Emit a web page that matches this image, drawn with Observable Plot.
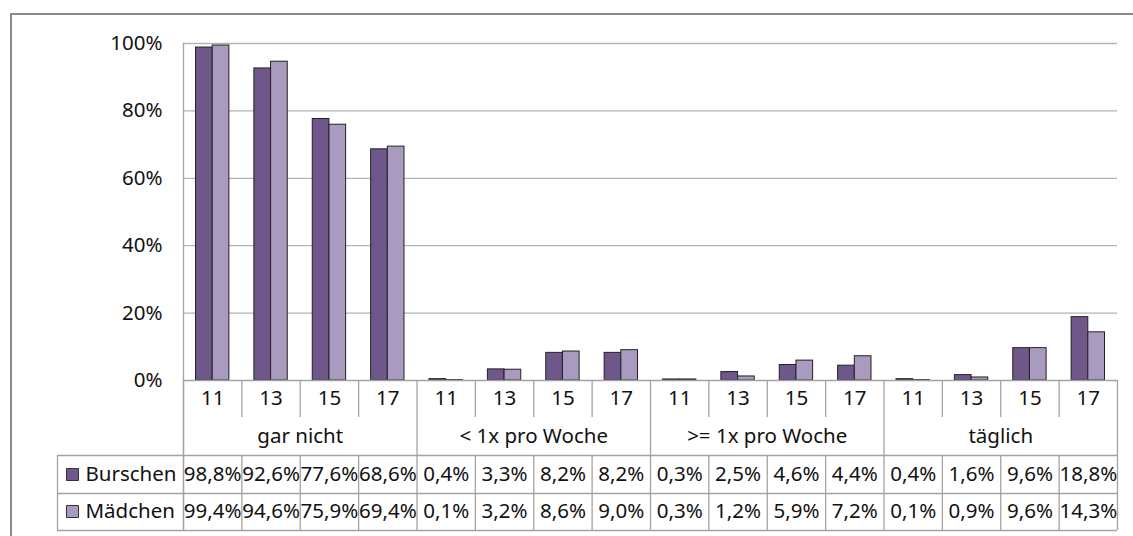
<!DOCTYPE html>
<html><head><meta charset="utf-8">
<script src="https://cdn.jsdelivr.net/npm/d3@7"></script>
<script src="https://cdn.jsdelivr.net/npm/@observablehq/plot@0.6"></script>
<style>
html,body{margin:0;padding:0;background:#fff;overflow:hidden}
#wrap{position:relative;width:1133px;height:536px}
#frame{position:absolute;left:10px;top:13px;width:1200px;height:600px;border:2px solid #8c8c8c;box-sizing:border-box;pointer-events:none}
svg{display:block}
</style></head><body><div id="wrap"><div id="chart"></div><div id="frame"></div></div>
<script>
const groups = ["gar nicht", "< 1x pro Woche", ">= 1x pro Woche", "täglich"];
const ages = ["11", "13", "15", "17"];
const series = ["Burschen", "Mädchen"];
const burschen = [98.8, 92.6, 77.6, 68.6, 0.4, 3.3, 8.2, 8.2, 0.3, 2.5, 4.6, 4.4, 0.4, 1.6, 9.6, 18.8];
const maedchen = [99.4, 94.6, 75.9, 69.4, 0.1, 3.2, 8.6, 9.0, 0.3, 1.2, 5.9, 7.2, 0.1, 0.9, 9.6, 14.3];
const yTicks = [0, 20, 40, 60, 80, 100];

const colors = {"Burschen": "#6f578b", "Mädchen": "#a99abf"};
const values = {"Burschen": burschen, "Mädchen": maedchen};
const n = groups.length * ages.length;
const slots = groups.flatMap((g, gi) => ages.map((a, ai) => {
  const i = gi * ages.length + ai;
  return {i, group: g, age: a, b: burschen[i], m: maedchen[i]};
}));
const fmt = v => v.toFixed(1).replace(".", ",") + "%";
const bounds = d3.range(0, n + 1);
const groupBounds = bounds.filter(b => b % ages.length === 0);
const innerBounds = bounds.filter(b => b % ages.length !== 0);
const lineColor = "#a3a3a3";
const FS = 20.5;

const rowDy = [94, 131];

const marks = [
  Plot.ruleY(yTicks.filter(v => v > 0), {stroke: "#b3b3b3", strokeWidth: 1.3}),
  Plot.rectY(slots, {x1: d => d.i, x2: d => d.i + 1, y: "b", fill: colors["Burschen"], stroke: "#222", strokeWidth: 1, insetLeft: 12.5, insetRight: 29.2}),
  Plot.rectY(slots, {x1: d => d.i, x2: d => d.i + 1, y: "m", fill: colors["Mädchen"], stroke: "#222", strokeWidth: 1, insetLeft: 29.2, insetRight: 12.5}),
  // plot-area left edge down through table
  Plot.ruleX([0], {stroke: lineColor, strokeWidth: 1.3, insetBottom: -150}),
  // table grid
  Plot.ruleY([0], {stroke: lineColor, strokeWidth: 1.3}),
  Plot.ruleY([0], {stroke: lineColor, strokeWidth: 1.3, dy: 75, insetLeft: -126}),
  Plot.ruleY([0], {stroke: lineColor, strokeWidth: 1.3, dy: 113, insetLeft: -126}),
  Plot.ruleY([0], {stroke: lineColor, strokeWidth: 1.3, dy: 150, insetLeft: -126}),
  Plot.ruleX(groupBounds, {x: d => d, y1: 0, y2: 0, insetBottom: -150, stroke: lineColor, strokeWidth: 1.3}),
  Plot.ruleX(innerBounds, {x: d => d, y1: 0, y2: 0, insetBottom: -37, stroke: lineColor, strokeWidth: 1.3}),
  Plot.ruleX(innerBounds, {x: d => d, y1: 0, y2: 0, insetTop: 75, insetBottom: -150, stroke: lineColor, strokeWidth: 1.3}),
  Plot.ruleX([0], {x: d => d, y1: 0, y2: 0, dx: -126, insetTop: 75, insetBottom: -150, stroke: lineColor, strokeWidth: 1.3}),
  // age labels
  Plot.text(slots, {x: d => d.i + 0.5, y: 0, dy: 18, text: "age", fontSize: FS, fill: "#111"}),
  // group labels
  Plot.text(groups, {x: (g, gi) => gi * ages.length + ages.length / 2, y: 0, dy: 56, text: d => d, fontSize: FS, fill: "#111"}),
];
series.forEach((s, si) => {
  marks.push(
    Plot.text(slots, {x: d => d.i + 0.5, y: 0, dy: rowDy[si], text: d => fmt(values[s][d.i]), fontSize: FS, fill: "#111"}),
    Plot.text([s], {x: 0, y: 0, dx: -98, dy: rowDy[si], text: d => d, textAnchor: "start", fontSize: FS, fill: "#111"}),
    Plot.dot([s], {x: 0, y: 0, dx: -111, dy: rowDy[si], symbol: "square", r: 6.8, fill: colors[s], stroke: "#333", strokeWidth: 1})
  );
});

const chart = Plot.plot({
  width: 1133,
  height: 536,
  marginLeft: 183,
  marginRight: 16,
  marginTop: 43,
  marginBottom: 156,
  style: {fontFamily: "'Noto Sans', sans-serif", fontSize: "20.5px", color: "#111", background: "transparent"},
  x: {type: "linear", domain: [0, n], axis: null},
  y: {domain: [0, 100], ticks: yTicks, tickFormat: d => d + "%", tickSize: 0, tickPadding: 21, label: null},
  marks
});
document.getElementById("chart").appendChild(chart);
</script>
</body></html>
